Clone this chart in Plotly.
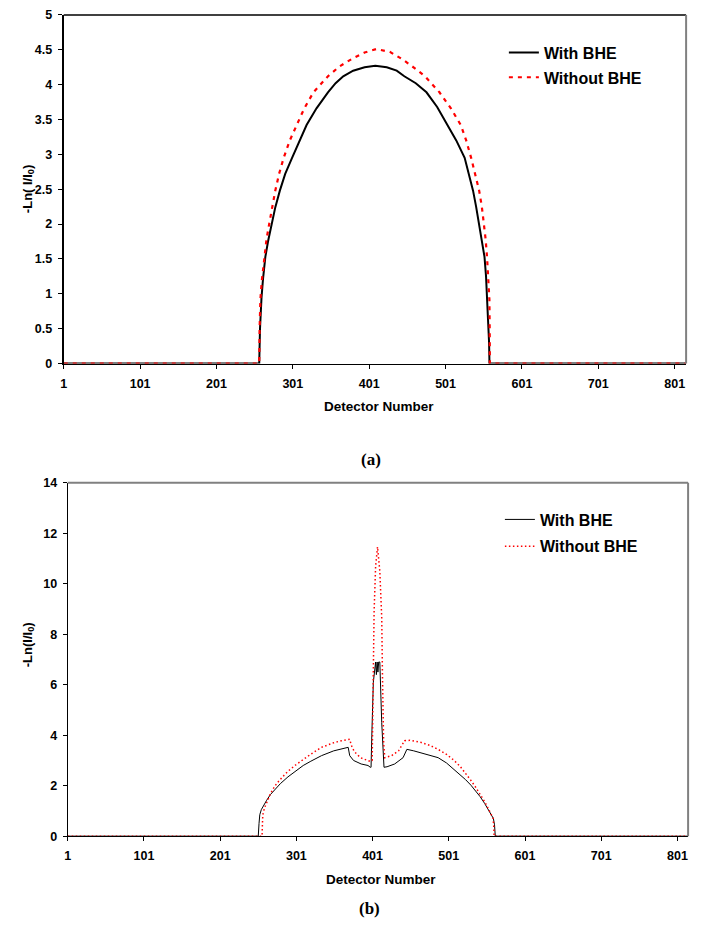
import plotly.graph_objects as go

# ---------------- data ----------------
# (a) upper panel
det_a_with = [1, 257, 258, 259, 260, 262, 265, 268.5, 273, 278, 284, 291, 300, 309, 319, 332, 347, 357, 367, 380, 395, 409,
              424, 437, 447, 462, 476, 490, 504, 515, 526, 531, 537, 541, 545, 548.5, 552, 554, 555.5, 557, 558, 558.5, 816]
val_a_with = [0, 0, 0.50, 0.75, 0.95, 1.22, 1.53, 1.75, 2.00, 2.24, 2.48, 2.72, 2.95, 3.18, 3.42, 3.66, 3.89, 4.02, 4.12, 4.20, 4.25, 4.27,
              4.25, 4.20, 4.12, 4.02, 3.89, 3.68, 3.42, 3.20, 2.95, 2.73, 2.48, 2.25, 2.00, 1.76, 1.53, 1.25, 0.95, 0.60, 0.30, 0, 0]

det_a_without = [1, 257, 257.5, 258.5, 260.5, 263.5, 266.5, 270, 274, 278, 283, 289, 297, 306, 316, 328, 347, 362, 380, 395, 410,
                 428, 445, 460, 474, 493, 508, 521, 528, 534.5, 540, 545, 548.5, 551.5, 553.5, 555.3, 557, 558.4, 558.8, 559, 816]
val_a_without = [0, 0, 0.50, 0.92, 1.20, 1.53, 1.78, 2.00, 2.25, 2.48, 2.72, 2.95, 3.20, 3.42, 3.66, 3.89, 4.12, 4.26, 4.38, 4.46, 4.51,
                 4.47, 4.36, 4.24, 4.12, 3.89, 3.66, 3.42, 3.20, 2.95, 2.72, 2.48, 2.25, 2.00, 1.78, 1.53, 1.20, 0.92, 0.50, 0, 0]

# (b) lower panel
det_b_with = [1, 251, 252, 253, 255, 258, 262, 267, 273, 280, 290, 300, 310, 320, 334, 350, 360, 369, 371, 376, 386, 395, 398, 399,
              400, 401, 402, 405, 406, 407, 408, 409, 410.5, 413, 415, 416, 420, 430, 441, 446, 455, 465, 476, 487, 498, 508,
              516, 523, 530, 536, 542, 548, 553, 557, 559.5, 561, 562, 815]
val_b_with = [0, 0, 0.50, 0.85, 1.05, 1.22, 1.42, 1.65, 1.87, 2.08, 2.35, 2.58, 2.80, 2.97, 3.19, 3.38, 3.46, 3.52, 3.19, 3.00, 2.86, 2.80, 2.73, 2.73,
              4.00, 5.50, 6.10, 6.90, 6.40, 6.90, 6.50, 6.90, 6.90, 4.50, 2.85, 2.73, 2.75, 2.86, 3.11, 3.44, 3.38, 3.30, 3.22, 3.11, 2.90, 2.65,
              2.44, 2.24, 2.02, 1.80, 1.57, 1.30, 1.05, 0.85, 0.70, 0.45, 0, 0]

det_b_without = [1, 256, 256.5, 257, 259, 262, 266, 270, 275, 282, 290, 300, 310, 320, 334, 350, 360, 369, 371, 373, 377, 385, 396, 398,
                 400.5, 402, 403, 405, 407.5, 410.5, 413, 414, 415.5, 417, 426, 435, 443, 450, 465, 476, 487, 498, 508,
                 516, 523, 530, 536, 542, 548, 553, 557, 559, 560, 560.5, 815]
val_b_without = [0, 0, 0.50, 0.85, 1.10, 1.35, 1.62, 1.85, 2.08, 2.32, 2.57, 2.82, 3.05, 3.25, 3.52, 3.70, 3.78, 3.84, 3.84, 3.61, 3.35, 3.11, 3.00, 2.96,
                 3.00, 5.80, 8.90, 10.70, 11.46, 10.50, 8.66, 6.32, 3.71, 3.11, 3.19, 3.38, 3.78, 3.80, 3.71, 3.60, 3.44, 3.24, 3.00,
                 2.76, 2.50, 2.21, 1.95, 1.68, 1.37, 1.08, 0.85, 0.72, 0.40, 0, 0]

x_tick_vals = [1, 101, 201, 301, 401, 501, 601, 701, 801]
x_tick_text = [str(v) for v in x_tick_vals]
y_ticks_a = [0, 0.5, 1, 1.5, 2, 2.5, 3, 3.5, 4, 4.5, 5]
y_ticks_b = [0, 2, 4, 6, 8, 10, 12, 14]

names = ["With BHE", "Without BHE"]

# ---------------- figure ----------------
W, H = 711, 940
FONT = "Arial, Liberation Sans, sans-serif"

fig = go.Figure()

fig.add_trace(go.Scatter(x=det_a_with, y=val_a_with, mode="lines", name=names[0],
                         line=dict(color="black", width=2), xaxis="x", yaxis="y",
                         legend="legend", legendgroup="a1"))
fig.add_trace(go.Scatter(x=det_a_without, y=val_a_without, mode="lines", name=names[1],
                         line=dict(color="#ff0000", width=2.2, dash="4px,5px"), xaxis="x", yaxis="y",
                         legend="legend", legendgroup="a2"))
fig.add_trace(go.Scatter(x=det_b_with, y=val_b_with, mode="lines", name=names[0],
                         line=dict(color="black", width=1), xaxis="x2", yaxis="y2",
                         legend="legend2", legendgroup="b1"))
fig.add_trace(go.Scatter(x=det_b_without, y=val_b_without, mode="lines", name=names[1],
                         line=dict(color="#ff0000", width=1.5, dash="1.5px,2.5px"), xaxis="x2", yaxis="y2",
                         legend="legend2", legendgroup="b2"))

tickfont = dict(family=FONT, size=12.5, color="black", weight="bold")

common_x = dict(tickmode="array", tickvals=x_tick_vals, ticktext=x_tick_text, ticks="outside",
                ticklen=4, tickcolor="black", tickwidth=1, showgrid=False, zeroline=False,
                showline=True, linecolor="black", linewidth=1, tickfont=tickfont, ticklabelstandoff=4)
common_y = dict(tickmode="array", ticks="outside", ticklen=4, tickcolor="black", tickwidth=1,
                showgrid=False, zeroline=False, showline=True, linecolor="black",
                tickfont=tickfont, ticklabelstandoff=3)

fig.update_layout(
    width=W, height=H,
    margin=dict(l=0, r=0, t=0, b=0),
    paper_bgcolor="white", plot_bgcolor="white",
    xaxis=dict(domain=[61 / W, 686 / W], range=[1, 816], anchor="y", **common_x),
    yaxis=dict(domain=[1 - 362 / H, 1 - 8 / H], range=[0, 5], anchor="x",
               tickvals=y_ticks_a, ticktext=[f"{v:g}" for v in y_ticks_a], linewidth=2, **common_y),
    xaxis2=dict(domain=[65 / W, 688 / W], range=[1, 815], anchor="y2", **common_x),
    yaxis2=dict(domain=[1 - 841.7 / H, 1 - 483 / H], range=[0, 14], anchor="x2",
                tickvals=y_ticks_b, ticktext=[str(v) for v in y_ticks_b], linewidth=1, **common_y),
    legend=dict(x=503 / W, y=1 - 29 / H, xanchor="left", yanchor="top", bgcolor="rgba(0,0,0,0)",
                font=dict(family=FONT, size=16, color="black", weight="bold"),
                traceorder="grouped", tracegroupgap=1),
    legend2=dict(x=499 / W, y=1 - 503 / H, xanchor="left", yanchor="top", bgcolor="rgba(0,0,0,0)",
                 font=dict(family=FONT, size=16, color="black", weight="bold"),
                 traceorder="grouped", tracegroupgap=3),
    showlegend=True,
)

# plot-area borders (top / right)
fig.add_shape(type="line", xref="x domain", yref="y domain", x0=0, x1=1, y0=1, y1=1,
              line=dict(color="black", width=1.5))
fig.add_shape(type="line", xref="x domain", yref="y domain", x0=1, x1=1, y0=0, y1=1,
              line=dict(color="#808080", width=2))
fig.add_shape(type="line", xref="x2 domain", yref="y2 domain", x0=0, x1=1, y0=1, y1=1,
              line=dict(color="#808080", width=2))
fig.add_shape(type="line", xref="x2 domain", yref="y2 domain", x0=1, x1=1, y0=0, y1=1,
              line=dict(color="#808080", width=2))

title_font = dict(family=FONT, size=13.5, color="black", weight="bold")
fig.add_annotation(text="Detector Number", xref="paper", yref="paper", x=378 / W, y=1 - 406 / H,
                   showarrow=False, font=title_font, xanchor="center", yanchor="middle")
fig.add_annotation(text="Detector Number", xref="paper", yref="paper", x=380 / W, y=1 - 886 / H,
                   showarrow=False, font=title_font, xanchor="center", yanchor="middle")
fig.add_annotation(text="-Ln( I/I<sub>0</sub>)", xref="paper", yref="paper", x=25 / W, y=1 - 185 / H,
                   showarrow=False, font=dict(family=FONT, size=13, color="black", weight="bold"),
                   textangle=-90, xanchor="center", yanchor="middle")
fig.add_annotation(text="-Ln(I/I<sub>0</sub>)", xref="paper", yref="paper", x=25 / W, y=1 - 647 / H,
                   showarrow=False, font=dict(family=FONT, size=13, color="black", weight="bold"),
                   textangle=-90, xanchor="center", yanchor="middle")

panel_font = dict(family="Times New Roman, Liberation Serif, serif", size=17, color="black", weight="bold")
fig.add_annotation(text="(a)", xref="paper", yref="paper", x=370 / W, y=1 - 459 / H,
                   showarrow=False, font=panel_font, xanchor="center", yanchor="middle")
fig.add_annotation(text="(b)", xref="paper", yref="paper", x=368 / W, y=1 - 915 / H,
                   showarrow=False, font=panel_font, xanchor="center", yanchor="middle")

fig.write_html("out.html", config={"displayModeBar": False},
               post_script="document.body.style.margin='0';")
